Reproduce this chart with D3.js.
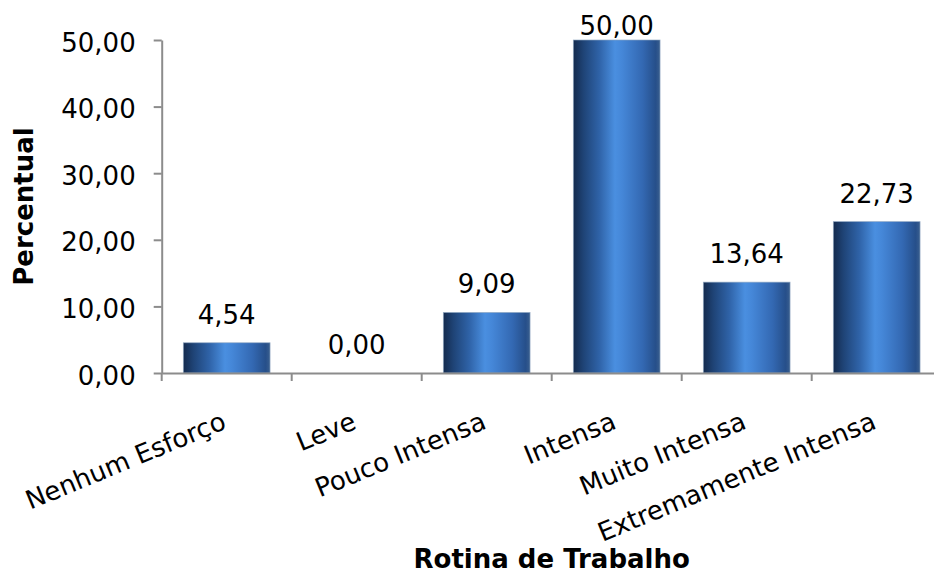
<!DOCTYPE html>
<html>
<head>
<meta charset="utf-8">
<script src="https://cdn.jsdelivr.net/npm/d3@7/dist/d3.min.js"></script>
<style>
  html, body { margin: 0; padding: 0; background: #fff; }
  svg { display: block; }
  text { font-family: "DejaVu Sans", Verdana, sans-serif; fill: #000; }
</style>
</head>
<body>
<svg id="chart" width="934" height="575"></svg>
<script>
const categories = ["Nenhum Esforço", "Leve", "Pouco Intensa", "Intensa", "Muito Intensa", "Extremamente Intensa"];
const values = [4.54, 0.00, 9.09, 50.00, 13.64, 22.73];
const yTicks = [0, 10, 20, 30, 40, 50];
const yTitle = "Percentual";
const xTitle = "Rotina de Trabalho";

const W = 934, H = 575;
const margin = { left: 161.7, top: 40, bottomY: 373, right: 941.7 };

const svg = d3.select("#chart");
const fmt = v => v.toFixed(2).replace(".", ",");

const x = d3.scaleBand().domain(categories).range([margin.left, margin.right]).paddingInner(0.333).paddingOuter(0.1665);
const xAxisScale = d3.scaleBand().domain(categories).range([margin.left, margin.right]);
const y = d3.scaleLinear().domain([0, 50]).range([margin.bottomY, margin.top]);

// gradient
const defs = svg.append("defs");
const grad = defs.append("linearGradient").attr("id", "barGrad").attr("x1", "0%").attr("x2", "100%").attr("y1", "0%").attr("y2", "0%");
[
  [0, "#142b4e"], [0.12, "#1f4477"], [0.3, "#2f63a8"], [0.48, "#4a8fe0"],
  [0.56, "#4587d8"], [0.8, "#3368b2"], [0.95, "#264f8a"], [1, "#3a5f8f"]
].forEach(([o, c]) => grad.append("stop").attr("offset", o).attr("stop-color", c));

// bars
svg.append("g").selectAll("rect").data(values).join("rect")
  .attr("x", (d, i) => x(categories[i]))
  .attr("width", x.bandwidth())
  .attr("y", d => y(d))
  .attr("height", d => y(0) - y(d))
  .attr("fill", "url(#barGrad)")
  .attr("stroke", "#8fa6c2")
  .attr("stroke-width", 0.8)
  .attr("stroke-opacity", d => d > 0 ? 0.8 : 0);

// y axis
const yAxis = d3.axisLeft(y).tickValues(yTicks).tickFormat(fmt).tickSize(8).tickPadding(18).tickSizeOuter(0);
const gy = svg.append("g").attr("transform", `translate(${margin.left},0)`).call(yAxis);
gy.select(".domain").attr("stroke", "#8c8c8c").attr("stroke-width", 2);
gy.selectAll(".tick line").attr("stroke", "#8c8c8c").attr("stroke-width", 2);
gy.selectAll(".tick text").attr("font-size", 26).attr("font-family", "DejaVu Sans, Verdana, sans-serif").attr("dy", 11).attr("fill", "#000");

// x axis
const xAxis = d3.axisBottom(xAxisScale).tickSize(0).tickSizeOuter(0).tickFormat("");
const gx = svg.append("g").attr("transform", `translate(0,${margin.bottomY})`).call(xAxis);
gx.select(".domain").attr("stroke", "#8c8c8c").attr("stroke-width", 2);
gx.selectAll(".tick").remove();
// boundary ticks
gx.selectAll("line.bound").data(categories).join("line").attr("class", "bound")
  .attr("x1", d => xAxisScale(d)).attr("x2", d => xAxisScale(d))
  .attr("y1", 0).attr("y2", 8).attr("stroke", "#8c8c8c").attr("stroke-width", 2);

// category labels
svg.append("g").selectAll("text").data(categories).join("text")
  .attr("transform", d => `translate(${xAxisScale(d) + xAxisScale.bandwidth() / 2 + 1},${margin.bottomY + 55}) rotate(-22.5)`)
  .attr("text-anchor", "end")
  .attr("font-size", 26)
  .text(d => d);

// data labels
svg.append("g").selectAll("text").data(values).join("text")
  .attr("x", (d, i) => x(categories[i]) + x.bandwidth() / 2)
  .attr("y", d => Math.max(y(d) - 19, margin.top - 5))
  .attr("text-anchor", "middle")
  .attr("font-size", 26)
  .text(d => fmt(d));

// axis titles
svg.append("text")
  .attr("transform", `translate(33,${(margin.top + margin.bottomY) / 2}) rotate(-90)`)
  .attr("text-anchor", "middle")
  .attr("font-size", 26)
  .attr("font-weight", "bold")
  .text(yTitle);

svg.append("text")
  .attr("x", (margin.left + margin.right) / 2)
  .attr("y", 568)
  .attr("text-anchor", "middle")
  .attr("font-size", 26)
  .attr("font-weight", "bold")
  .text(xTitle);
</script>
</body>
</html>
